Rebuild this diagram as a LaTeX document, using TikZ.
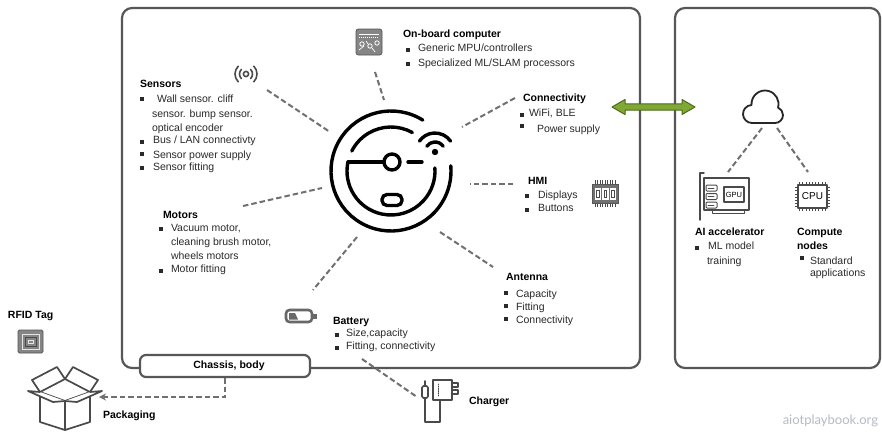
\documentclass[tikz,border=0pt]{standalone}
\usepackage{fontspec}
\setmainfont{Liberation Sans}
\newfontfamily\wmfont{Lato}
\usetikzlibrary{arrows.meta,calc}
\definecolor{frame}{HTML}{575757}
\definecolor{txt}{HTML}{2A2A2A}
\definecolor{linkgray}{HTML}{707070}
\definecolor{icongray}{HTML}{4A4A4A}
\definecolor{chipgray}{HTML}{858585}
\definecolor{arrowfill}{HTML}{7FA834}
\definecolor{arrowedge}{HTML}{4E6B1C}
\definecolor{wmark}{HTML}{B3BCC6}
% small square bullet centred at (x,y)
\newcommand{\sqbullet}[2]{\fill[txt] (#1-2.2,#2-2.2) rectangle (#1+2.2,#2+2.2);}
\begin{document}
\begin{tikzpicture}[x=1pt,y=-1pt,
  every node/.style={inner sep=0pt, outer sep=0pt, text=txt,
    font=\fontsize{10.5}{12}\selectfont},
  head/.style={anchor=mid west, text=black,
    font=\fontsize{10.5}{12}\selectfont\bfseries},
  item/.style={anchor=mid west},
  panel/.style={draw=frame, line width=2.2pt, rounded corners=10pt, fill=white},
  link/.style={draw=linkgray, line width=2pt, dash pattern=on 5.5pt off 3pt},
  icon/.style={draw=icongray, line width=1.6pt, line join=round, line cap=round},
  robot/.style={draw=black, line width=3.4pt, line cap=round},
]
\useasboundingbox (0,0) rectangle (882,431);
\fill[white] (0,0) rectangle (882,431);

% ---------- panels ----------
\draw[panel] (122,8) rectangle (640,368);
\draw[panel] (675,8) rectangle (880,368);

% ---------- robot ----------
\begin{scope}[shift={(391,171)}, y=1pt]
  \draw[robot] (58:60) arc[start angle=58, end angle=365, radius=60];
  \draw[robot] (61:44) arc[start angle=61, end angle=153, radius=44];
  \draw[robot] (168:44) arc[start angle=168, end angle=364, radius=44];
  \draw[robot] (-43,9) -- (-7,9);
  \draw[robot] (1,9) circle (8);
  \draw[robot] (17,9) -- (31,9);
  \fill (44,19) circle (3.2);
  \draw[robot] ($(44,19)+(35:10)$) arc[start angle=35, end angle=145, radius=10];
  \draw[robot] ($(44,19)+(35:19)$) arc[start angle=35, end angle=145, radius=19];
  \draw[robot, rounded corners=5pt] (-9,-23.5) rectangle (11,-34.5);
\end{scope}

% ---------- connector end points ----------
\coordinate (sen1) at (267,90);   \coordinate (sen2) at (330,132);
\coordinate (obc1c) at (375,72);  \coordinate (obc2c) at (384,100);
\coordinate (con1) at (515,98);   \coordinate (con2) at (462,127);
\coordinate (hmi1) at (513,184);  \coordinate (hmi2) at (470,184);
\coordinate (mot1) at (243,206);  \coordinate (mot2) at (322,188);
\coordinate (bat1) at (357,237);  \coordinate (bat2) at (313,290);
\coordinate (ant1) at (440,232);  \coordinate (ant2) at (493,267);
\coordinate (chg1) at (362,359);  \coordinate (chg2) at (417,397);
\coordinate (cl1) at (762,128);   \coordinate (gpu1) at (728,172);
\coordinate (cl2) at (777,128);   \coordinate (cpu1) at (808,172);
\coordinate (chs) at (225,378);   \coordinate (bend) at (225,397);
\coordinate (pkg) at (99,397);

\draw[link] (sen1) -- (sen2);
\draw[link] (obc1c) -- (obc2c);
\draw[link] (con1) -- (con2);
\draw[link] (hmi1) -- (hmi2);
\draw[link] (mot1) -- (mot2);
\draw[link] (bat1) -- (bat2);
\draw[link] (ant1) -- (ant2);
\draw[link] (chg1) -- (chg2);
\draw[link] (cl1) -- (gpu1);
\draw[link] (cl2) -- (cpu1);
\draw[link, -{Stealth[length=7pt,width=7pt]}] (chs) -- (bend) -- (pkg);

% ---------- chassis ----------
\node[draw=frame, line width=2.2pt, rounded corners=6pt, fill=white,
  minimum width=170pt, minimum height=22pt] (chassisbox) at (225,366) {};
\node[text=black, font=\fontsize{10.5}{12}\selectfont\bfseries] (chassis) at (229,366) {Chassis, body};

% ---------- green link ----------
\filldraw[fill=arrowfill, draw=arrowedge, line width=1pt, line join=round]
  (612,107) -- (625,99.5) -- (625,103.8) -- (682,103.8) -- (682,99.5) -- (695,107)
  -- (682,114.5) -- (682,110.2) -- (625,110.2) -- (625,114.5) -- cycle;

% ---------- sensors ----------
\begin{scope}[shift={(246,74)}, y=1pt]
  \draw[icon] (0,0) circle (2.6);
  \draw[icon] (135:6.5) arc[start angle=135, end angle=225, radius=6.5];
  \draw[icon] (135:11) arc[start angle=135, end angle=225, radius=11];
  \draw[icon] (-45:6.5) arc[start angle=-45, end angle=45, radius=6.5];
  \draw[icon] (-45:11) arc[start angle=-45, end angle=45, radius=11];
\end{scope}
\node[head] (sensors) at (140,85) {Sensors};
\sqbullet{142}{99}
\node[item] (s1) at (157,100) {Wall sensor. cliff};
\node[item] (s1b) at (152,115) {sensor. bump sensor.};
\node[item] (s1c) at (152,129) {optical encoder};
\sqbullet{142}{142}
\node[item] (s2) at (153,141) {Bus / LAN connectivty};
\sqbullet{142}{154}
\node[item] (s3) at (153,156) {Sensor power supply};
\sqbullet{142}{168}
\node[item] (s4) at (153,168) {Sensor fitting};

% ---------- on-board computer ----------
\filldraw[fill=chipgray, draw=frame, line width=0.8pt, rounded corners=2.5pt] (356,29) rectangle (382,55);
\draw[white, line width=0.8pt] (359,34) -- (379,34);
\draw[white, line width=0.6pt, dash pattern=on 1pt off 1pt] (359,37) -- (379,37);
\draw[white, line width=0.8pt] (362,44) circle (2.2) (370,46) circle (2.2) (377,43) circle (2.2);
\draw[white, line width=0.7pt] (359,50) -- (364,46) (372,48) -- (375,52) (366,41) -- (368,44);
\node[head] (obc) at (403,35) {On-board computer};
\sqbullet{408}{50}
\node[item] (obc1) at (418,49) {Generic MPU/controllers};
\sqbullet{408}{64}
\node[item] (obc2) at (418,64) {Specialized ML/SLAM processors};

% ---------- connectivity ----------
\node[head] (conn) at (523,99) {Connectivity};
\sqbullet{522}{115}
\node[item] (conn1) at (529,114) {WiFi, BLE};
\sqbullet{522}{126}
\node[item] (conn2) at (537,130) {Power supply};

% ---------- HMI ----------
\foreach \px in {595,597.5,...,615.5} {
  \draw[icongray, line width=0.7pt] (\px,180) -- (\px,184) (\px,203) -- (\px,207);
}
\filldraw[fill=chipgray!85!black, draw=frame, line width=0.8pt] (592,184) rectangle (618,203);
\foreach \px in {595,602.5,610} {
  \filldraw[fill=white, draw=white] (\px,188) rectangle (\px+5.5,199);
  \draw[icongray, line width=0.8pt] (\px+1.5,190) rectangle (\px+4,197);
}
\node[head] (hmi) at (528,182) {HMI};
\sqbullet{527}{196}
\node[item] (hmi1) at (538,196) {Displays};
\sqbullet{527}{210}
\node[item] (hmi2) at (538,209) {Buttons};

% ---------- motors ----------
\node[head] (motors) at (163,216) {Motors};
\sqbullet{161}{229}
\node[item] (m1) at (171,229) {Vacuum motor,};
\node[item] (m1b) at (171,243) {cleaning brush motor,};
\node[item] (m1c) at (171,257) {wheels motors};
\sqbullet{161}{271}
\node[item] (m2) at (171,270) {Motor fitting};

% ---------- battery ----------
\draw[draw=frame!90, line width=2.6pt, rounded corners=3.5pt] (286,310) rectangle (312,322);
\fill[frame!90] (312,313.5) rectangle (317,318.5);
\fill[frame!90] (289,313) -- (295,313) -- (298,319.5) -- (289,319.5) -- cycle;
\node[head] (battery) at (333,322) {Battery};
\sqbullet{337}{335}
\node[item] (b1) at (346,334) {Size,capacity};
\sqbullet{337}{348}
\node[item] (b2) at (346,347) {Fitting, connectivity};

% ---------- antenna ----------
\node[head] (antenna) at (506,278) {Antenna};
\sqbullet{506}{293}
\node[item] (a1) at (516,295) {Capacity};
\sqbullet{506}{306}
\node[item] (a2) at (516,308) {Fitting};
\sqbullet{506}{319}
\node[item] (a3) at (516,321) {Connectivity};

% ---------- charger ----------
\draw[icon] (433,380) rectangle (452,400);
\draw[icon, line width=0.8pt, dash pattern=on 1pt off 1.2pt] (438,384) -- (438,396);
\draw[icon] (452,383) -- (458,383) -- (458,387) -- (452,387);
\draw[icon] (452,390) -- (458,390) -- (458,394) -- (452,394);
\draw[icon] (440,400) -- (440,422) -- (425,422) -- (425,398);
\draw[icon, rounded corners=1.5pt] (422,386) rectangle (428,398);
\draw[icon] (425,386) -- (425,381);
\node[head] (charger) at (469,402) {Charger};

% ---------- RFID tag and packaging ----------
\node[head] (rfid) at (8,316) {RFID Tag};
\filldraw[fill=chipgray, draw=frame, line width=0.8pt, rounded corners=1.5pt] (18,330) rectangle (43,353);
\draw[white!80!gray, line width=1pt] (22,334) rectangle (39,349);
\draw[icongray, line width=1pt] (25,337) rectangle (36,346);
\draw[white!80!gray, line width=0.9pt] (28,340) rectangle (33,343);

\begin{scope}[icon, line width=1.7pt]
  % rear flaps
  \draw (40,392) -- (32,380) -- (57,367) -- (65,379);
  \draw (65,379) -- (73,367) -- (98,380) -- (90,392);
  % body
  \draw (40,392) -- (40,422) -- (65,430) -- (90,422) -- (90,392);
  \draw (65,401) -- (65,430);
  % rim
  \draw (40,392) -- (65,379) -- (90,392) -- (65,401) -- cycle;
  % front flaps
  \filldraw[fill=white] (40,392) -- (28,391) -- (53,402) -- (65,401);
  \filldraw[fill=white] (65,401) -- (77,402) -- (102,391) -- (90,392);
\end{scope}
\node[head] (packaging) at (103,416) {Packaging};

% ---------- cloud side ----------
\begin{scope}[shift={(763,123)}, y=1pt]
  \draw[draw=black!85, line width=1.8pt, line join=round]
    (-11,0) -- (12,0)
    arc[start angle=-90, end angle=67.9, radius=8]
    arc[start angle=-15.5, end angle=184.3, radius=13.5]
    arc[start angle=92.9, end angle=270, radius=9] -- cycle;
\end{scope}

% GPU card
\draw[icon, line width=1.4pt] (704,173) -- (700,173) -- (700,220);
\draw[icon, line width=1.4pt] (704,178) rectangle (749,210);
\foreach \py in {185,193.5,202} {
  \draw[icon, line width=1pt, rounded corners=1pt] (706,\py) rectangle (717,\py+6);
  \draw[icon, line width=0.8pt] (708,\py+3) -- (714,\py+3);
}
\draw[icon, line width=1.2pt] (724,187) rectangle (744,202);
\node[font=\fontsize{7.5}{9}\selectfont, text=black] (gpu) at (734,194.5) {GPU};
\draw[icon, line width=1pt] (712,210) -- (712,213) -- (744,213) -- (744,210);

% CPU chip
\foreach \t in {0,3.2,...,26} {
  \draw[icongray, line width=0.7pt] (799.5+\t,182) -- (799.5+\t,185);
  \draw[icongray, line width=0.7pt] (799.5+\t,208) -- (799.5+\t,211);
}
\foreach \t in {0,3.2,...,20} {
  \draw[icongray, line width=0.7pt] (795,187.5+\t) -- (798,187.5+\t);
  \draw[icongray, line width=0.7pt] (827,187.5+\t) -- (830,187.5+\t);
}
\draw[icon, line width=1.3pt] (798,185) rectangle (827,208);
\node[font=\fontsize{10}{12}\selectfont, text=black] (cpu) at (812.5,196.5) {CPU};

\node[head] (aiacc) at (695,233) {AI accelerator};
\sqbullet{697}{248}
\node[item] (ai1) at (708,247) {ML model};
\node[item] (ai2) at (707,262) {training};

\node[head] (comp) at (797,233) {Compute};
\node[head] (comp2) at (797,247) {nodes};
\sqbullet{802}{258}
\node[item] (c1) at (810,262) {Standard};
\node[item] (c2) at (810,274) {applications};

% ---------- site name ----------
\node[anchor=east, text=wmark, font=\wmfont\fontsize{13}{15}\selectfont] (site) at (878,421) {aiotplaybook.org};

\end{tikzpicture}
\end{document}
